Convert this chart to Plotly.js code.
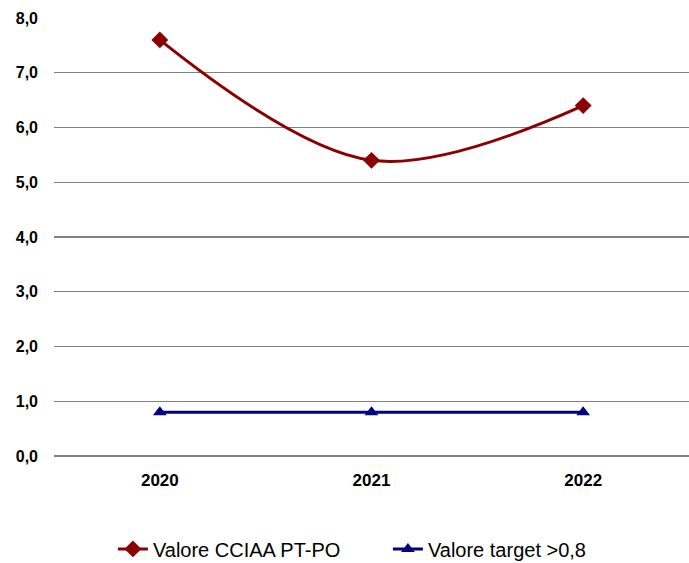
<!DOCTYPE html>
<html><head><meta charset="utf-8">
<script src="https://cdn.plot.ly/plotly-3.0.1.min.js"></script>
<style>html,body{margin:0;padding:0;background:#fff}#chart{width:689px;height:563px}</style>
</head><body><div id="chart"></div>
<script>
var years = ['2020', '2021', '2022'];
var valoreCCIAA = [7.6, 5.4, 6.4];
var valoreTarget = [0.8, 0.8, 0.8];
var seriesNames = ['Valore CCIAA PT-PO', 'Valore target >0,8'];

var traces = [
  {x: years, y: valoreCCIAA, name: seriesNames[0], type: 'scatter', mode: 'lines+markers',
   line: {color: '#8B0000', width: 3, shape: 'spline', smoothing: 1},
   marker: {symbol: 'diamond', size: 13, color: '#8B0000'}},
  {x: years, y: valoreTarget, name: seriesNames[1], type: 'scatter', mode: 'lines+markers',
   line: {color: '#000080', width: 3},
   marker: {symbol: 'triangle-up', size: 12, color: '#000080'}}
];

var layout = {
  width: 689, height: 563,
  margin: {l: 54, r: 0, t: 18, b: 107},
  paper_bgcolor: '#fff', plot_bgcolor: '#fff',
  separators: ',.',
  font: {family: 'Liberation Sans, Arial, sans-serif', color: '#000'},
  showlegend: true,
  legend: {orientation: 'h', xref: 'container', x: 0.563, xanchor: 'center',
           yref: 'container', y: 0.025, yanchor: 'middle',
           entrywidth: 230, entrywidthmode: 'pixels',
           font: {size: 20, color: '#000'}, traceorder: 'normal', itemsizing: 'trace'},
  xaxis: {type: 'category', range: [-0.5, 2.5], showgrid: false, zeroline: false, showline: false,
          ticks: '', ticklabelstandoff: 12,
          tickfont: {size: 17, family: 'Liberation Sans, Arial, sans-serif', weight: 'bold'}},
  yaxis: {range: [0, 8], dtick: 1, tick0: 0, tickformat: '.1f', showgrid: true,
          gridcolor: '#808080', gridwidth: 1.3, zeroline: true, zerolinecolor: '#808080', zerolinewidth: 1.3,
          showline: false, ticks: '', ticklabelstandoff: 15,
          tickfont: {size: 16, family: 'Liberation Sans, Arial, sans-serif', weight: 'bold'}}
};
Plotly.newPlot('chart', traces, layout, {displayModeBar: false, staticPlot: true});
</script></body></html>
